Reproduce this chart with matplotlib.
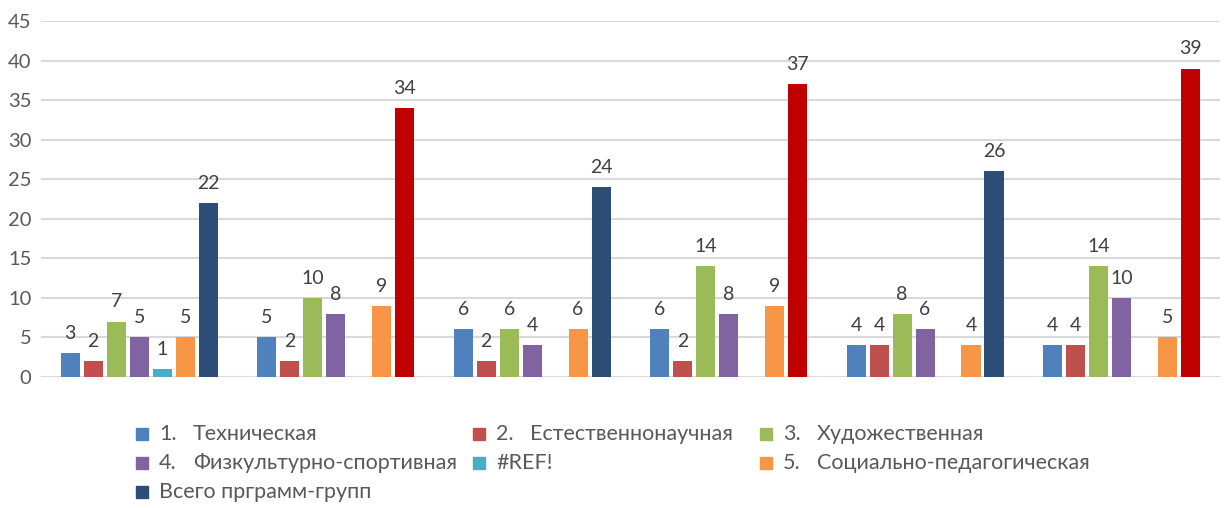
import matplotlib.pyplot as plt
import numpy as np
from matplotlib.patches import Rectangle

nums = ["1.", "2.", "3.", "4.", "", "5.", ""]
names = [
    "Техническая",
    "Естественнонаучная",
    "Художественная",
    "Физкультурно-спортивная",
    "#REF!",
    "Социально-педагогическая",
    "Всего прграмм-групп",
]
tech = [3, 5, 6, 6, 4, 4]
nat = [2, 2, 2, 2, 4, 4]
art = [7, 10, 6, 14, 8, 14]
sport = [5, 8, 4, 8, 6, 10]
ref = [1, np.nan, np.nan, np.nan, np.nan, np.nan]
soc = [5, 9, 6, 9, 4, 5]
total = [22, 34, 24, 37, 26, 39]
values = [tech, nat, art, sport, ref, soc, total]

colors = ["#4F81BD", "#C0504D", "#9BBB59", "#8064A2", "#4BACC6", "#F79646", "#2C4D75"]
total_colors = ["#2C4D75", "#C00000", "#2C4D75", "#C00000", "#2C4D75", "#C00000"]

plt.rcParams["font.family"] = ["Lato", "DejaVu Sans"]

fig = plt.figure(figsize=(12.24, 5.08), dpi=100)
ax = fig.add_axes([0.0335, 0.258, 0.963, 0.7005])

x = np.arange(6)
pitch = 0.117
width = 0.097
for i, vals in enumerate(values):
    c = total_colors if i == 6 else colors[i]
    bars = ax.bar(x + (i - 3) * pitch, vals, width=width, color=c, zorder=3)
    labels = ["" if np.isnan(v) else f"{v:g}" for v in np.array(vals, dtype=float)]
    ax.bar_label(bars, labels=labels, padding=8, fontsize=14, color="#404040")

ax.set_xlim(-0.5, 5.5)
ax.set_ylim(0, 45)
ax.set_yticks(range(0, 46, 5))
ax.set_xticks([])
ax.tick_params(axis="y", length=0, labelsize=14.5, labelcolor="#595959", pad=7)
ax.grid(axis="y", color="#D9D9D9", lw=1.5, zorder=0)
for s in ax.spines.values():
    s.set_visible(False)

# legend laid out like the Excel one (pixel positions of the squares)
leg_pos = [(136, 434), (473, 434), (760, 434), (136, 463), (473, 463), (760, 463), (136, 492)]
W, H = 1224, 508
for i, (px, py) in enumerate(leg_pos):
    fig.patches.append(Rectangle((px / W, 1 - (py + 6) / H), 12 / W, 12 / H,
                                 transform=fig.transFigure, color=colors[i]))
    if nums[i]:
        fig.text((px + 23) / W, 1 - py / H, nums[i], fontsize=15.5, color="#595959",
                 va="center", ha="left")
        fig.text((px + 57) / W, 1 - py / H, names[i], fontsize=15.5, color="#595959",
                 va="center", ha="left")
    else:
        fig.text((px + 23) / W, 1 - py / H, names[i], fontsize=15.5, color="#595959",
                 va="center", ha="left")

fig.savefig("out.png")
